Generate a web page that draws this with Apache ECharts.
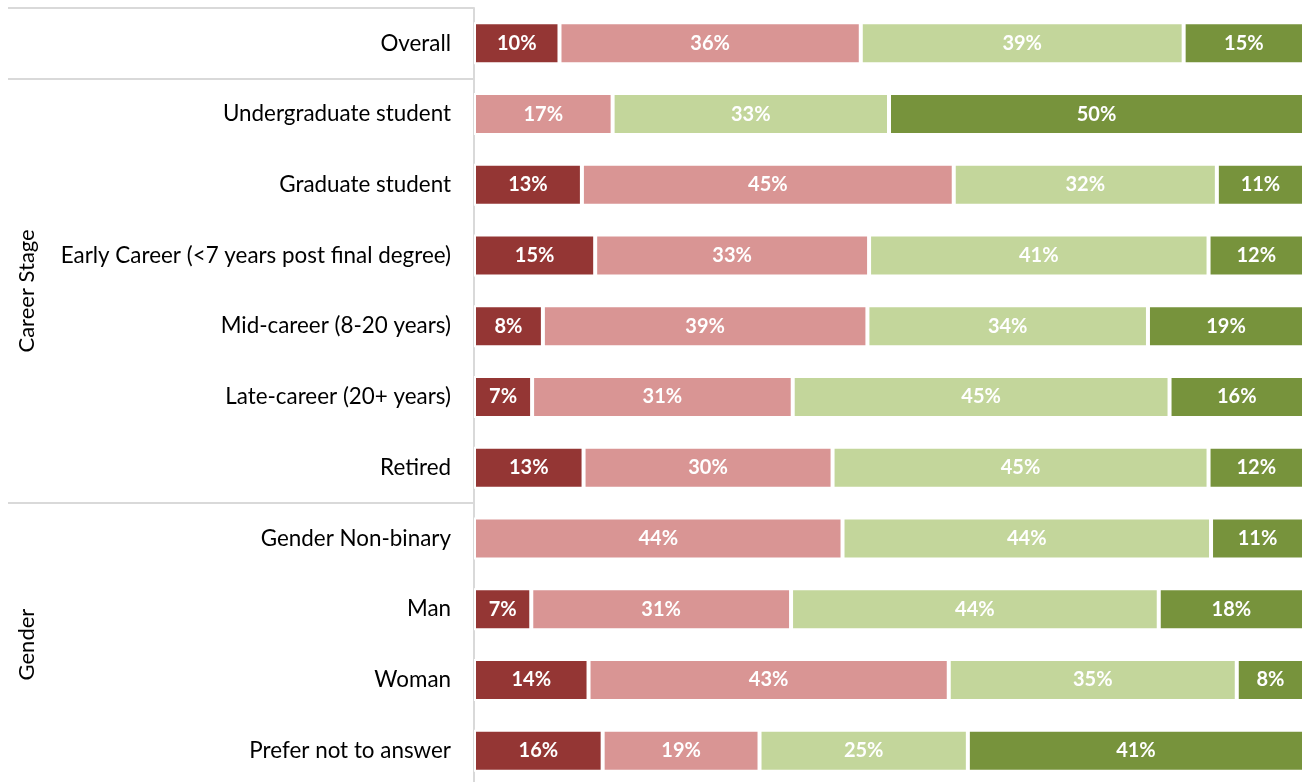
<!DOCTYPE html>
<html>
<head>
<meta charset="utf-8">
<script src="https://cdn.jsdelivr.net/npm/echarts@6/dist/echarts.min.js"></script>
<style>
  html, body { margin: 0; padding: 0; background: #fff; }
  #chart { width: 1305px; height: 782px; }
</style>
</head>
<body>
<div id="chart"></div>
<script>
// rows, top to bottom
const categories = [
  'Overall',
  'Undergraduate student',
  'Graduate student',
  'Early Career (<7 years post final degree)',
  'Mid-career (8-20 years)',
  'Late-career (20+ years)',
  'Retired',
  'Gender Non-binary',
  'Man',
  'Woman',
  'Prefer not to answer'
]

// share of respondents (%)
const veryNegative = [10.3, null, 13.0, 14.6, 8.3, 7.0, 13.2, null, 6.9, 13.8, 15.5]
const negative = [36.3, 16.7, 44.8, 33.0, 39.1, 31.4, 30.0, 44.4, 31.3, 43.4, 18.9]
const positive = [38.9, 33.3, 31.7, 40.9, 33.8, 45.4, 45.3, 44.4, 44.3, 34.7, 25.1]
const veryPositive = [14.5, 50.0, 10.5, 11.5, 18.8, 16.2, 11.5, 11.2, 17.5, 8.1, 40.5]

// category groups shown on the far left
const groupNames = ['Career Stage', 'Gender']
const groupFirst = [1, 7]
const groupLast = [6, 10]
// row indexes where a divider line is drawn (top edge of that row)
const dividerRows = [0, 1, 7]

const COLORS = ['#943634', '#D99594', '#C3D69B', '#77933C']
const FONT = 'Lato'

const chart = echarts.init(document.getElementById('chart'))

const seriesData = [
  { name: 'Very negative', data: veryNegative },
  { name: 'Negative', data: negative },
  { name: 'Positive', data: positive },
  { name: 'Very positive', data: veryPositive }
]

const option = {
  animation: false,
  color: COLORS,
  grid: {
    left: 474,
    right: 1,
    top: 8,
    height: 778,
    outerBoundsMode: 'none',
    containLabel: false
  },
  xAxis: {
    type: 'value',
    min: 0,
    max: 100,
    show: false
  },
  yAxis: {
    type: 'category',
    inverse: true,
    data: categories,
    axisLine: {
      show: true,
      lineStyle: { color: '#d9d9d9', width: 2 }
    },
    axisTick: {
      show: true,
      length: 466,
      interval: (index) => dividerRows.indexOf(index) !== -1,
      lineStyle: { color: '#d9d9d9', width: 2 }
    },
    axisLabel: {
      margin: 23,
      color: '#000',
      fontFamily: FONT,
      fontSize: 22.4
    },
    splitLine: { show: false }
  },
  series: seriesData.map(s => ({
    name: s.name,
    type: 'bar',
    stack: 'total',
    barWidth: 42,
    data: s.data.map(v => v == null ? '-' : v),
    itemStyle: {
      borderColor: '#fff',
      borderWidth: 2
    },
    label: {
      show: true,
      position: 'inside',
      color: '#fff',
      fontFamily: FONT,
      fontWeight: 'bold',
      fontSize: 20,
      formatter: p => Math.round(p.value) + '%'
    }
  }))
}

chart.setOption(option)

// group labels, rotated, centred on their rows
const groupGraphics = groupNames.map((name, i) => {
  const y1 = chart.convertToPixel({ yAxisIndex: 0 }, categories[groupFirst[i]])
  const y2 = chart.convertToPixel({ yAxisIndex: 0 }, categories[groupLast[i]])
  return {
    type: 'text',
    x: 27,
    y: (y1 + y2) / 2,
    rotation: Math.PI / 2,
    style: {
      text: name,
      fill: '#000',
      font: '22px ' + FONT,
      align: 'center',
      verticalAlign: 'middle'
    }
  }
})

chart.setOption({ graphic: groupGraphics })
</script>
</body>
</html>
